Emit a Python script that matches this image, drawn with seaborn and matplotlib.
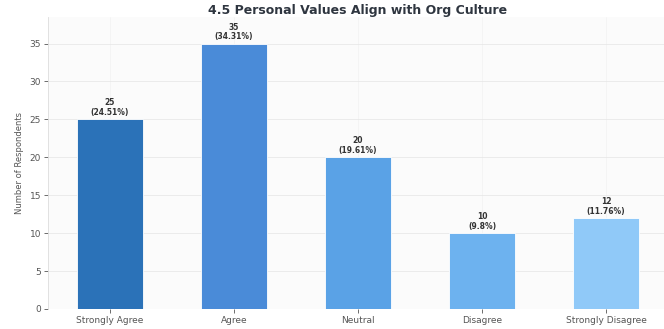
import matplotlib
matplotlib.use("Agg")
import matplotlib.pyplot as plt
import seaborn as sns
import pandas as pd

categories = ["Strongly Agree", "Agree", "Neutral", "Disagree", "Strongly Disagree"]
counts = [25, 35, 20, 10, 12]
percents = ["24.51%", "34.31%", "19.61%", "9.8%", "11.76%"]
colors = ["#2b72b8", "#4a8bd8", "#5aa2e6", "#6db2ef", "#90c9f8"]

sns.set_theme(style="whitegrid")
plt.rcParams['font.family'] = ['DejaVu Sans']

df = pd.DataFrame({"Response": categories, "Count": counts})

fig = plt.figure(figsize=(6.64, 3.29), dpi=100)
ax = fig.add_axes([48/664, 20/329, 620/664, 292/329])
ax.set_facecolor("#fbfbfb")

sns.barplot(data=df, x="Response", y="Count", hue="Response", palette=colors,
            legend=False, width=0.54, saturation=1, edgecolor="white",
            linewidth=0.6, ax=ax)

for i, (c, p) in enumerate(zip(counts, percents)):
    ax.text(i, c + 0.3, f"{c}\n({p})", ha="center", va="bottom",
            fontsize=5.5, fontweight="bold", color="#333333", linespacing=1.1)

ax.set_xlim(-0.5, 4.5)
ax.set_ylim(0, 38.5)
ax.set_yticks(range(0, 36, 5))
ax.set_xlabel("")
ax.set_ylabel("Number of Respondents", fontsize=6, color="#555555")
ax.tick_params(axis="both", labelsize=6.5, colors="#555555", length=3, width=0.6,
               left=True, bottom=True, pad=2)
ax.grid(True, axis="y", color="#e8e8e8", linewidth=0.6)
ax.grid(True, axis="x", color="#f2f2f2", linewidth=0.5)
for s in ["top", "right", "bottom"]:
    ax.spines[s].set_visible(False)
ax.spines["left"].set_color("#dddddd")
ax.spines["left"].set_linewidth(0.6)
ax.set_title("4.5 Personal Values Align with Org Culture", fontsize=9,
             fontweight="bold", color="#2f3640", pad=2)

fig.savefig("out.png", dpi=100)
